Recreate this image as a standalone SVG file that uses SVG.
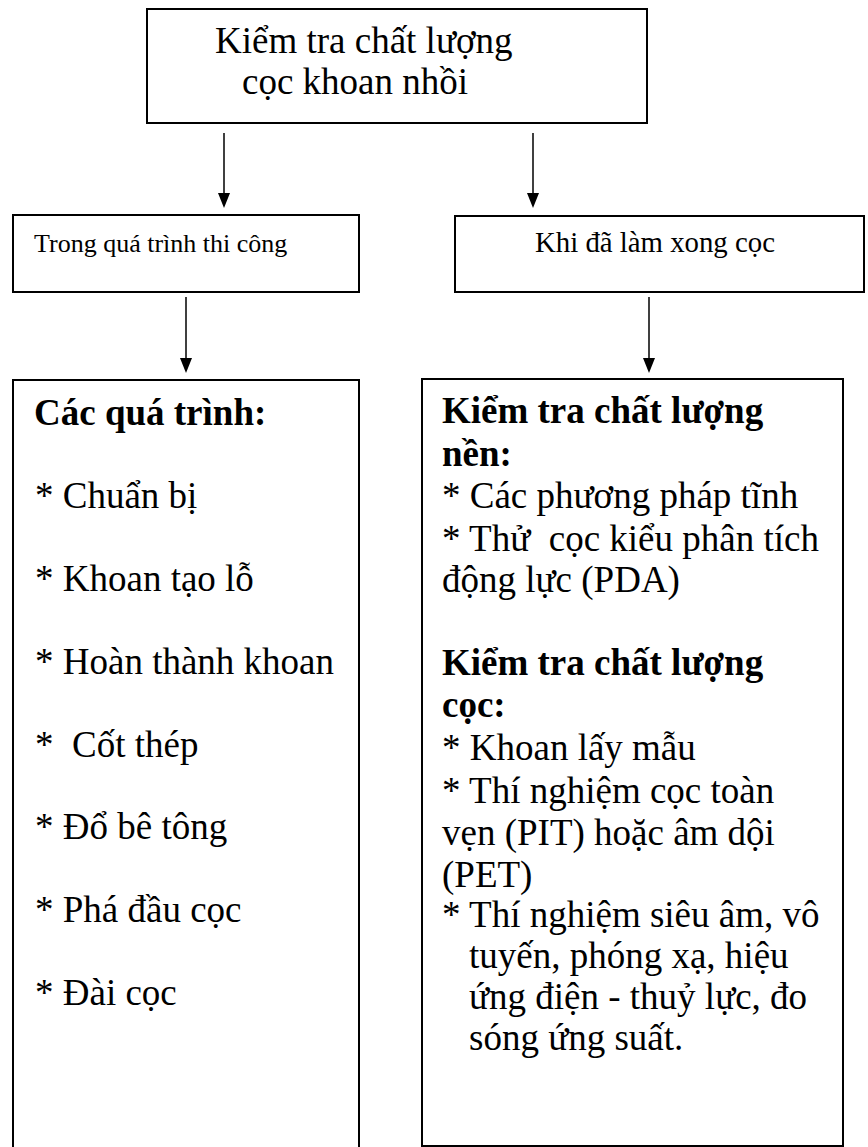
<svg xmlns="http://www.w3.org/2000/svg" width="868" height="1147" viewBox="0 0 868 1147">
<style>
.box{fill:#fff;stroke:#000;stroke-width:2}
.t{font-family:"Liberation Serif","Times New Roman",serif;fill:#000}
.big{font-size:37px}
.mid{font-size:26px}
.mid2{font-size:28.8px}
.b{font-weight:bold}
.conn{stroke:#000;stroke-width:1.5;fill:none}
.head{fill:#000}
</style>
<rect width="868" height="1147" fill="#fff"/>
<g id="connectors">
<line class="conn" x1="224" y1="133" x2="224" y2="193"/>
<path class="head" d="M218,193 L230,193 L224,208 Z"/>
<line class="conn" x1="533" y1="133" x2="533" y2="193"/>
<path class="head" d="M527,193 L539,193 L533,208 Z"/>
<line class="conn" x1="186" y1="297" x2="186" y2="358"/>
<path class="head" d="M180,358 L192,358 L186,373 Z"/>
<line class="conn" x1="649" y1="297" x2="649" y2="358"/>
<path class="head" d="M643,358 L655,358 L649,373 Z"/>
</g>
<g id="root">
<rect class="box" x="147" y="9" width="500" height="114"/>
<text class="t big" x="215" y="53">Kiểm tra chất lượng</text>
<text class="t big" x="242" y="94">cọc khoan nhồi</text>
</g>
<g id="during">
<rect class="box" x="13" y="215" width="346" height="77"/>
<text class="t mid" x="34" y="252">Trong quá trình thi công</text>
</g>
<g id="after">
<rect class="box" x="455" y="216" width="409" height="76"/>
<text class="t mid2" x="535" y="252">Khi đã làm xong cọc</text>
</g>
<g id="processes">
<rect class="box" x="13" y="380" width="346" height="780"/>
<text class="t big b" x="34" y="425">Các quá trình:</text>
<text class="t big" x="35" y="508">* Chuẩn bị</text>
<text class="t big" x="35" y="591">* Khoan tạo lỗ</text>
<text class="t big" x="35" y="674">* Hoàn thành khoan</text>
<text class="t big" x="35" y="757" xml:space="preserve">*  Cốt thép</text>
<text class="t big" x="35" y="839">* Đổ bê tông</text>
<text class="t big" x="35" y="922">* Phá đầu cọc</text>
<text class="t big" x="35" y="1005">* Đài cọc</text>
</g>
<g id="checks">
<rect class="box" x="422" y="379" width="421" height="767"/>
<text class="t big b" x="442" y="423">Kiểm tra chất lượng</text>
<text class="t big b" x="442" y="466">nền:</text>
<text class="t big" x="442" y="508">* Các phương pháp tĩnh</text>
<text class="t big" x="442" y="551" xml:space="preserve">* Thử  cọc kiểu phân tích</text>
<text class="t big" x="442" y="592">động lực (PDA)</text>
<text class="t big b" x="442" y="675">Kiểm tra chất lượng</text>
<text class="t big b" x="442" y="717">cọc:</text>
<text class="t big" x="442" y="760">* Khoan lấy mẫu</text>
<text class="t big" x="442" y="803">* Thí nghiệm cọc toàn</text>
<text class="t big" x="442" y="845">vẹn (PIT) hoặc âm dội</text>
<text class="t big" x="442" y="887">(PET)</text>
<text class="t big" x="442" y="927">* Thí nghiệm siêu âm, vô</text>
<text class="t big" x="469" y="968">tuyến, phóng xạ, hiệu</text>
<text class="t big" x="469" y="1009">ứng điện - thuỷ lực, đo</text>
<text class="t big" x="469" y="1050">sóng ứng suất.</text>
</g>
</svg>
